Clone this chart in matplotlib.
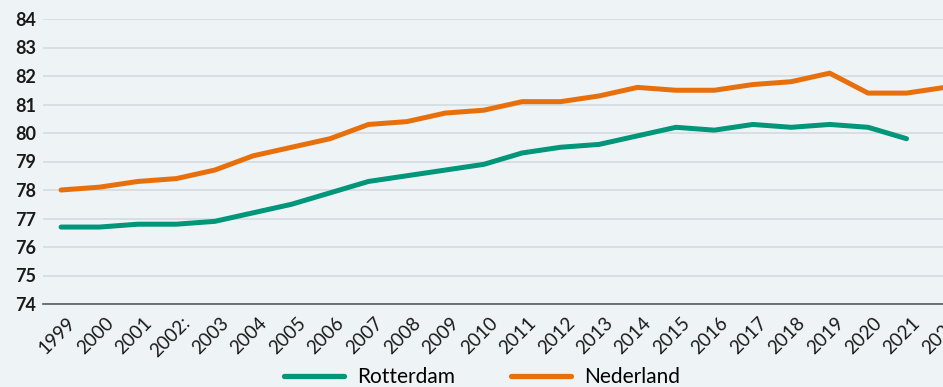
import matplotlib
matplotlib.use("Agg")
import matplotlib.pyplot as plt
import matplotlib.transforms as mtransforms
from matplotlib.lines import Line2D

# data
years = list(range(1999, 2023))
year_labels = ["1999", "2000", "2001", "2002:", "2003", "2004", "2005", "2006",
               "2007", "2008", "2009", "2010", "2011", "2012", "2013", "2014",
               "2015", "2016", "2017", "2018", "2019", "2020", "2021", "2022"]
rotterdam = [76.7, 76.7, 76.8, 76.8, 76.9, 77.2, 77.5, 77.9, 78.3, 78.5, 78.7,
             78.9, 79.3, 79.5, 79.6, 79.9, 80.2, 80.1, 80.3, 80.2, 80.3, 80.2, 79.8]
nederland = [78.0, 78.1, 78.3, 78.4, 78.7, 79.2, 79.5, 79.8, 80.3, 80.4, 80.7,
             80.8, 81.1, 81.1, 81.3, 81.6, 81.5, 81.5, 81.7, 81.8, 82.1, 81.4, 81.4, 81.6]
y_ticks = list(range(74, 85))

green = "#00967a"
orange = "#e8700c"
bg = "#eef3f6"

plt.rcParams["font.family"] = ["Lato", "DejaVu Sans"]

fig = plt.figure(figsize=(9.43, 3.87), dpi=100, facecolor=bg)
# axes run past the right edge of the figure, like in the reference
ax = fig.add_axes([43 / 943, 83 / 387, 920 / 943, 285 / 387], facecolor=bg)

ax.plot(years[:len(rotterdam)], rotterdam, color=green, lw=3.6,
        solid_capstyle="round", solid_joinstyle="round", zorder=3)
ax.plot(years, nederland, color=orange, lw=3.6,
        solid_capstyle="round", solid_joinstyle="round", zorder=3)

ax.set_ylim(74, 84)
ax.set_xlim(1999 - 0.47, 2022 + 0.47)
ax.set_yticks(y_ticks)
ax.set_yticklabels([str(v) for v in y_ticks], fontsize=13, fontweight="bold",
                   color="#1a1a1a")

# rotated year labels, placed by hand so they sit like the reference
ax.set_xticks(years)
ax.set_xticklabels([])
shift = mtransforms.ScaledTranslation(11 / 100, -16 / 100, fig.dpi_scale_trans)
label_trans = ax.get_xaxis_transform() + shift
for yr, lab in zip(years, year_labels):
    ax.text(yr, 0, lab, transform=label_trans, rotation=45, ha="right",
            va="center", rotation_mode="anchor", fontsize=13.5, color="#1a1a1a",
            clip_on=False)

ax.tick_params(axis="both", length=0)
ax.tick_params(axis="y", pad=5)
ax.grid(axis="y", color="#d3dbdf", lw=1.2, zorder=0)
for side in ["top", "right", "left"]:
    ax.spines[side].set_visible(False)
ax.spines["bottom"].set_color("#555b5f")
ax.spines["bottom"].set_linewidth(1.2)

handles = [Line2D([], [], color=green, lw=3.8, solid_capstyle="round"),
           Line2D([], [], color=orange, lw=3.8, solid_capstyle="round")]
fig.legend(handles, ["Rotterdam", "Nederland"], loc="center",
           bbox_to_anchor=(0.511, 0.026), ncol=2, frameon=False, fontsize=15,
           handlelength=2.9, handletextpad=0.6, columnspacing=2.7)

fig.savefig("out.png", dpi=100, facecolor=bg)
